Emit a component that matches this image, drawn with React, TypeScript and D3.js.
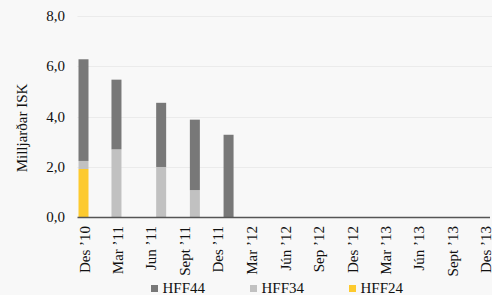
import React, { useRef, useEffect } from 'react';
import * as d3 from 'd3';

// bar dates (year-month) and the stacked series, in billions ISK
const barDates = ['2010-12', '2011-03', '2011-07', '2011-10', '2012-01'];
const hff24 = [1.92, 0, 0, 0, 0];
const hff34 = [0.32, 2.7, 2.0, 1.08, 0];
const hff44 = [4.04, 2.77, 2.55, 2.8, 3.28];

// quarterly tick dates and their labels
const tickDates = [
  '2010-12', '2011-03', '2011-06', '2011-09', '2011-12', '2012-03', '2012-06',
  '2012-09', '2012-12', '2013-03', '2013-06', '2013-09', '2013-12',
];
const tickLabels = [
  'Des ’10', 'Mar ’11', 'Jun ’11', 'Sept ’11', 'Des ’11', 'Mar ’12', 'Jún ’12',
  'Sep ’12', 'Des ’12', 'Mar ’13', 'Jún ’13', 'Sept ’13', 'Des ’13',
];
const yTicks = [0, 2, 4, 6, 8];

const seriesNames = ['HFF24', 'HFF34', 'HFF44'];
const colors = { HFF24: '#fdca2e', HFF34: '#c1c1c1', HFF44: '#787878' };
const legendOrder = ['HFF44', 'HFF34', 'HFF24'];

const App = () => {
  const ref = useRef(null);

  useEffect(() => {
    const svg = d3.select(ref.current);
    svg.selectAll('*').remove();

    const W = 492, H = 295;
    const font = '"Liberation Serif", "Times New Roman", serif';
    const parse = d3.timeParse('%Y-%m');

    svg.append('rect').attr('width', W).attr('height', H).attr('fill', '#f8f8f8');

    const plotLeft = 77.5, plotRight = 492;
    const x = d3.scaleTime()
      .domain([parse('2010-12'), parse('2013-12')])
      .range([83.5, 485]);
    const y = d3.scaleLinear().domain([0, 8]).range([217.3, 16]);

    // grid lines
    svg.append('g')
      .selectAll('line')
      .data(yTicks.filter(d => d > 0))
      .enter()
      .append('line')
      .attr('x1', plotLeft)
      .attr('x2', plotRight)
      .attr('y1', d => Math.round(y(d)) + 0.5)
      .attr('y2', d => Math.round(y(d)) + 0.5)
      .attr('stroke', '#ebebeb')
      .attr('stroke-width', 1);

    // y tick labels
    svg.append('g')
      .selectAll('text')
      .data(yTicks)
      .enter()
      .append('text')
      .attr('x', 65)
      .attr('y', d => y(d) + 5)
      .attr('text-anchor', 'end')
      .attr('font-family', font)
      .attr('font-size', 15)
      .attr('fill', '#111')
      .text(d => d3.format('.1f')(d).replace('.', ','));

    // y title
    svg.append('text')
      .attr('transform', 'translate(26.5,128) rotate(-90)')
      .attr('text-anchor', 'middle')
      .attr('font-family', font)
      .attr('font-size', 15)
      .attr('fill', '#111')
      .text('Milljarðar ISK');

    // stacked bars
    const rows = barDates.map((d, i) => ({
      date: parse(d), HFF24: hff24[i], HFF34: hff34[i], HFF44: hff44[i],
    }));
    const stack = d3.stack().keys(seriesNames)(rows);
    const barW = 10;

    svg.append('g')
      .selectAll('g')
      .data(stack)
      .enter()
      .append('g')
      .attr('fill', s => colors[s.key])
      .selectAll('rect')
      .data(s => s.filter(p => p[1] - p[0] > 0))
      .enter()
      .append('rect')
      .attr('x', p => x(p.data.date) - barW / 2)
      .attr('width', barW)
      .attr('y', p => y(p[1]))
      .attr('height', p => y(p[0]) - y(p[1]));

    // x axis line
    svg.append('line')
      .attr('x1', plotLeft)
      .attr('x2', 490)
      .attr('y1', 217.5)
      .attr('y2', 217.5)
      .attr('stroke', '#555')
      .attr('stroke-width', 1.3);

    // x tick labels (rotated)
    svg.append('g')
      .selectAll('text')
      .data(tickDates)
      .enter()
      .append('text')
      .attr('transform', d => `translate(${x(parse(d)) + 1},226) rotate(-90)`)
      .attr('dy', '0.35em')
      .attr('text-anchor', 'end')
      .attr('font-family', font)
      .attr('font-size', 15)
      .attr('fill', '#111')
      .text((d, i) => tickLabels[i]);

    // legend
    const legendX = [151, 250, 349];
    const lg = svg.append('g')
      .selectAll('g')
      .data(legendOrder)
      .enter()
      .append('g')
      .attr('transform', (d, i) => `translate(${legendX[i]},285)`);
    lg.append('rect')
      .attr('width', 7)
      .attr('height', 7)
      .attr('fill', d => colors[d]);
    lg.append('text')
      .attr('x', 11.5)
      .attr('y', 8)
      .attr('font-family', font)
      .attr('font-size', 15)
      .attr('fill', '#111')
      .text(d => d);
  }, []);

  return (
    <svg
      ref={ref}
      width={492}
      height={295}
      style={{ position: 'absolute', left: 0, top: 0, display: 'block' }}
    ></svg>
  );
};

export default App;
